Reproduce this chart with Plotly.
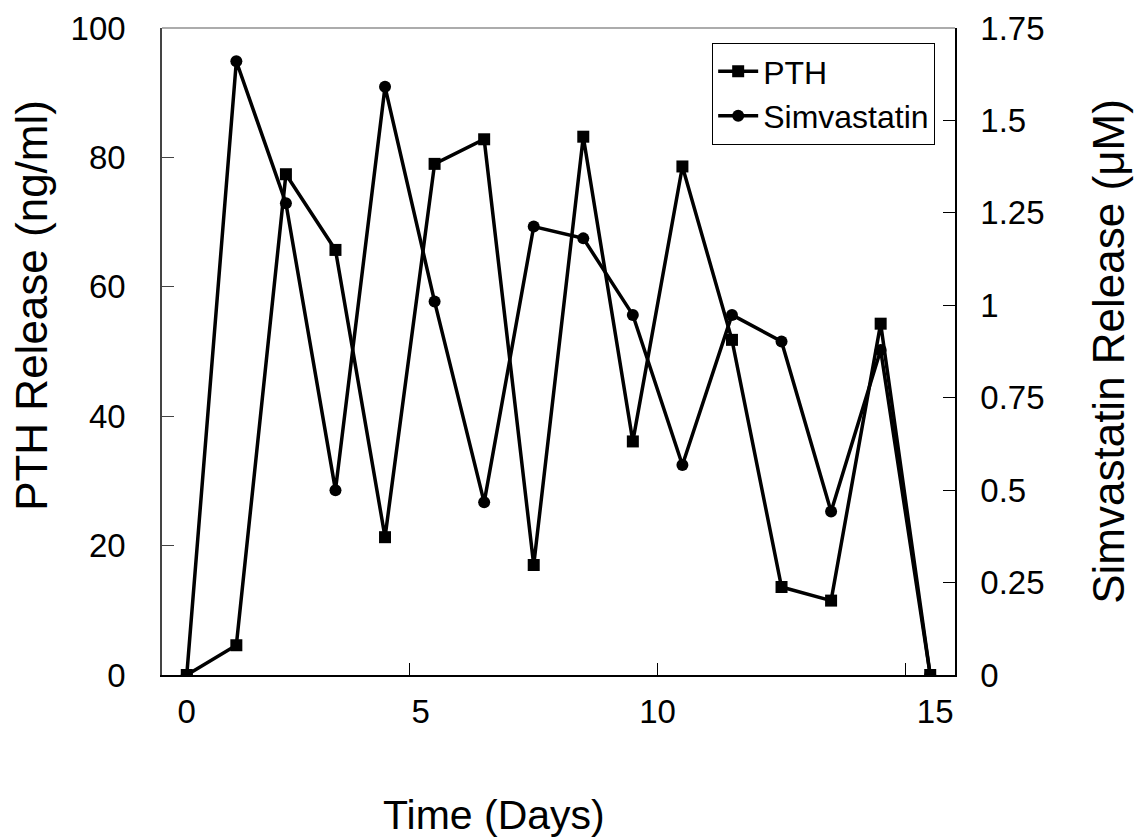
import plotly.graph_objects as go

# ---- data ----
days = [0, 1, 2, 3, 4, 5, 6, 7, 8, 9, 10, 11, 12, 13, 14, 15]
pth_release = [0, 4.6, 77.4, 65.7, 21.3, 79.0, 82.8, 17.0, 83.2, 36.1, 78.6, 51.8, 13.6, 11.5, 54.3, 0]
simvastatin_release = [0, 1.66, 1.276, 0.50, 1.591, 1.01, 0.467, 1.213, 1.181, 0.974, 0.568, 0.974, 0.902, 0.442, 0.879, 0]
x_tick_labels = ["0", "5", "10", "15"]
left_ticks = [0, 20, 40, 60, 80, 100]
right_ticks = [0, 0.25, 0.5, 0.75, 1, 1.25, 1.5, 1.75]
right_tick_labels = ["0", "0.25", "0.5", "0.75", "1", "1.25", "1.5", "1.75"]

FONT = "Liberation Sans, Arial, sans-serif"
FS = 33
TFS = 41
VFS = 44

fig = go.Figure()
fig.add_trace(go.Scatter(
    x=days, y=pth_release, name="PTH", mode="lines+markers",
    line=dict(color="black", width=3.5),
    marker=dict(symbol="square", size=12, color="black"),
    legendgroup="a", yaxis="y"))
fig.add_trace(go.Scatter(
    x=days, y=simvastatin_release, name="Simvastatin", mode="lines+markers",
    line=dict(color="black", width=3.5),
    marker=dict(symbol="circle", size=12, color="black"),
    legendgroup="b", yaxis="y2"))
# empty trace so that the label-only axis is drawn
fig.add_trace(go.Scatter(x=[None], y=[None], xaxis="x3", yaxis="y", showlegend=False,
                         hoverinfo="skip"))

xr = [-0.5, 15.5]
fig.update_layout(
    width=1142, height=840,
    margin=dict(l=154, r=195, t=20, b=173),
    paper_bgcolor="white", plot_bgcolor="white",
    font=dict(family=FONT, size=FS, color="black"),
    showlegend=True,
    legend=dict(x=0.975, y=0.977, xanchor="right", yanchor="top",
                bordercolor="black", borderwidth=1, bgcolor="white",
                font=dict(size=32), tracegroupgap=0, traceorder="grouped",
                itemwidth=40),
    xaxis=dict(range=xr, tickvals=[-0.5, 4.5, 9.5, 14.5], showticklabels=False,
               ticks="inside", ticklen=12, tickcolor="black", automargin=False,
               showline=True, linecolor="black", linewidth=1.5,
               showgrid=False, zeroline=False),
    xaxis3=dict(range=xr, overlaying="x", anchor="y", side="bottom", automargin=False,
                tickvals=[0, 4.72, 9.5, 15.1], ticktext=x_tick_labels,
                ticks="", showline=False, showgrid=False, zeroline=False,
                ticklabelstandoff=14),
    yaxis=dict(range=[0, 100], tickvals=left_ticks, ticks="inside", ticklen=12,
               tickcolor="#444", showline=True, linecolor="#444", linewidth=1.5,
               showgrid=False, zeroline=False, ticklabelstandoff=28, automargin=False),
    yaxis2=dict(range=[0, 1.75], tickvals=right_ticks, ticktext=right_tick_labels,
                overlaying="y", side="right", anchor="x", automargin=False,
                ticks="inside", ticklen=12, tickcolor="black",
                showline=True, linecolor="black", linewidth=1.5,
                showgrid=False, zeroline=False, ticklabelstandoff=17,
                title=dict(text="Simvastatin Release (μM)", standoff=50, font=dict(size=VFS))),
)
fig.add_annotation(text="PTH Release (ng/ml)", xref="paper", yref="paper",
                   x=-0.164, y=0.572, xanchor="center", yanchor="middle",
                   textangle=-90, showarrow=False, font=dict(size=VFS))
fig.add_annotation(text="Time (Days)", xref="paper", yref="paper",
                   x=0.4187, y=-0.2164, xanchor="center", yanchor="middle",
                   showarrow=False, font=dict(size=TFS))
fig.add_shape(type="line", xref="paper", yref="paper", x0=0, x1=1, y0=1, y1=1,
              line=dict(color="#909090", width=1.5))

fig.write_html("out.html")
